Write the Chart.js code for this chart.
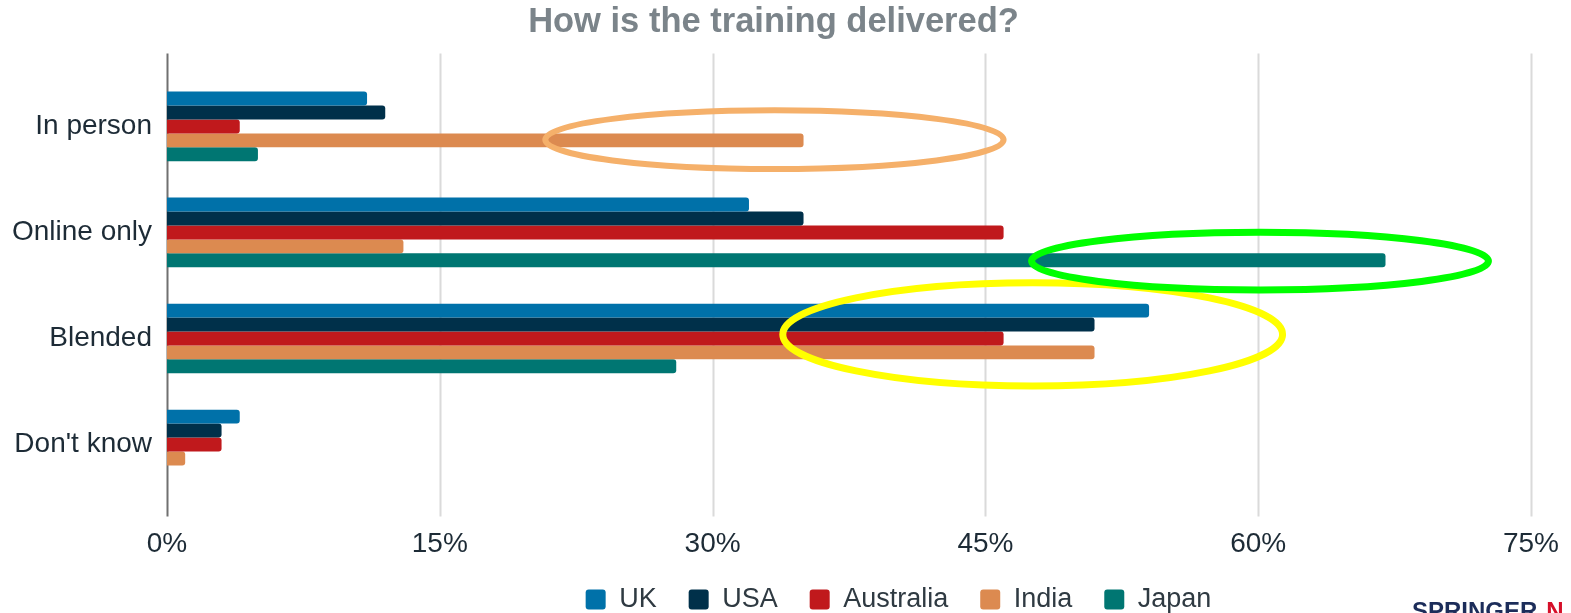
<!DOCTYPE html>
<html>
<head>
<meta charset="utf-8">
<script src="https://cdn.jsdelivr.net/npm/chart.js@4"></script>
<style>
    html, body { margin: 0; padding: 0; background: #fff; overflow: hidden; }
    #wrap { position: relative; width: 1571px; height: 623px; }
    #logo {
        position: absolute; left: 1412px; top: 597px;
        font: bold 24px "Liberation Sans", Arial, sans-serif;
        color: #1c2d5a; white-space: nowrap;
    }
    #logo span { color: #d6102a; margin-left: 9px; }
</style>
</head>
<body>
<div id="wrap">
    <canvas id="chart"></canvas>
    <div id="logo">SPRINGER<span>N</span></div>
</div>
<script>
// Data (percent of respondents)
const categories = ['In person', 'Online only', 'Blended', "Don't know"];
const ukValues = [11, 32, 54, 4];
const usaValues = [12, 35, 51, 3];
const australiaValues = [4, 46, 46, 3];
const indiaValues = [35, 13, 51, 1];
const japanValues = [5, 67, 28, 0];
const xTicks = [0, 15, 30, 45, 60, 75];

const FONT = '"Liberation Sans", Arial, sans-serif';

// Highlight rings drawn on top (centre in %, category units)
const rings = [
    { cx: 33.4, cy: 0.125, rx: 12.6, ry: 0.277, color: '#f5b06a', width: 6 },
    { cx: 47.6, cy: 1.962, rx: 13.74, ry: 0.487, color: '#ffff00', width: 7 },
    { cx: 60.1, cy: 1.27, rx: 12.56, ry: 0.272, color: '#00ff00', width: 7 }
];

// vertical grid lines that run a bit past the plot area
const gridPlugin = {
    id: 'gridLines',
    beforeDatasetsDraw(chart) {
        const ctx = chart.ctx;
        const x = chart.scales.x;
        const top = chart.chartArea.top - 20;
        const bottom = chart.chartArea.bottom + 19;
        ctx.save();
        xTicks.forEach(t => {
            const px = Math.round(x.getPixelForValue(t)) + 0.5;
            ctx.beginPath();
            ctx.lineWidth = 2;
            ctx.strokeStyle = t === 0 ? '#707070' : '#dadada';
            ctx.moveTo(px, top);
            ctx.lineTo(px, bottom);
            ctx.stroke();
        });
        ctx.restore();
    }
};

const ringPlugin = {
    id: 'rings',
    afterDatasetsDraw(chart) {
        const ctx = chart.ctx;
        const x = chart.scales.x;
        const y = chart.scales.y;
        ctx.save();
        rings.forEach(r => {
            const cx = x.getPixelForValue(r.cx);
            const cy = y.getPixelForValue(r.cy);
            const rx = x.getPixelForValue(r.cx + r.rx) - cx;
            const ry = y.getPixelForValue(r.cy + r.ry) - cy;
            ctx.beginPath();
            ctx.ellipse(cx, cy, rx, ry, 0, 0, Math.PI * 2);
            ctx.lineWidth = r.width;
            ctx.strokeStyle = r.color;
            ctx.stroke();
        });
        ctx.restore();
    }
};

// legend and title sit right of centre in the original
const blockShift = {
    id: 'blockShift',
    afterLayout(chart) {
        chart.legend.left += 133;
        chart.legend.right += 133;
        chart.titleBlock.left += 8;
        chart.titleBlock.right += 8;
    }
};

const ctx = document.getElementById('chart').getContext('2d');

new Chart(ctx, {
    type: 'bar',
    data: {
        labels: categories,
        datasets: [
            { label: 'UK', data: ukValues, backgroundColor: '#0071a9' },
            { label: 'USA', data: usaValues, backgroundColor: '#00304a' },
            { label: 'Australia', data: australiaValues, backgroundColor: '#c0191c' },
            { label: 'India', data: indiaValues, backgroundColor: '#dc8a50' },
            { label: 'Japan', data: japanValues, backgroundColor: '#007672' }
        ]
    },
    options: {
        indexAxis: 'y',
        responsive: true,
        maintainAspectRatio: false,
        animation: false,
        layout: { padding: { left: 0, right: 40, top: 0, bottom: 0 } },
        datasets: {
            bar: {
                barPercentage: 1,
                categoryPercentage: 0.657,
                borderRadius: 3,
                borderSkipped: 'start'
            }
        },
        scales: {
            x: {
                min: 0,
                max: 75,
                grid: { display: false, drawTicks: false },
                border: { display: false },
                ticks: {
                    stepSize: 15,
                    padding: 30,
                    color: '#1d2b36',
                    font: { family: FONT, size: 28 },
                    callback: v => v + '%'
                },
                afterFit(scale) {
                    scale.height = 56.5;
                    scale.paddingLeft = 0;
                    scale.paddingRight = 0;
                }
            },
            y: {
                grid: { display: false, drawTicks: false },
                border: { display: false },
                ticks: {
                    padding: 15,
                    color: '#1d2b36',
                    font: { family: FONT, size: 28 }
                },
                afterFit(scale) { scale.width = 167; }
            }
        },
        plugins: {
            title: {
                display: true,
                text: 'How is the training delivered?',
                color: '#7b848a',
                font: { family: FONT, size: 34.5, weight: 'bold' },
                padding: { top: 2, bottom: 30 }
            },
            legend: {
                position: 'bottom',
                labels: {
                    boxWidth: 20,
                    boxHeight: 20,
                    padding: 32,
                    useBorderRadius: true,
                    borderRadius: 3,
                    color: '#2f3a42',
                    font: { family: FONT, size: 27 }
                }
            },
            tooltip: { enabled: false }
        }
    },
    plugins: [gridPlugin, ringPlugin, blockShift]
});
</script>
</body>
</html>
